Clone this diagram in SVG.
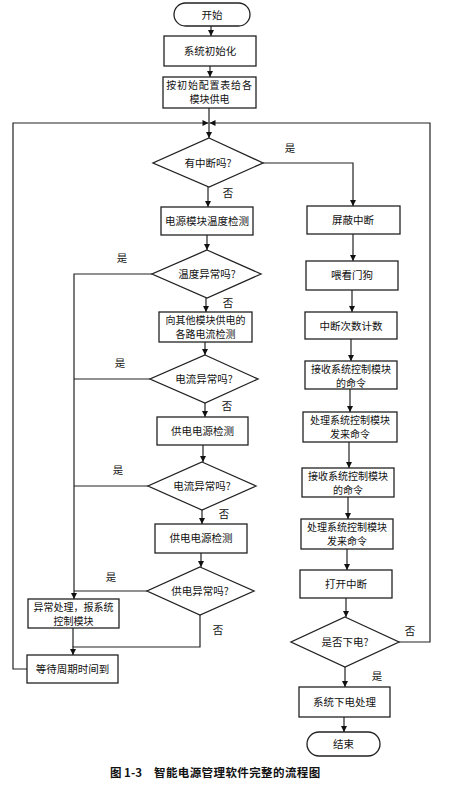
<svg xmlns="http://www.w3.org/2000/svg" width="462" height="787" viewBox="0 0 462 787">
<style>
.bx{fill:#fff;stroke:#222;stroke-width:1.3}
.ln{fill:none;stroke:#222;stroke-width:1.2}
.t{font-family:"Noto Sans CJK SC","Noto Sans",sans-serif;font-size:10.5px;fill:#111;text-anchor:middle}
.t2{font-family:"Noto Sans CJK SC","Noto Sans",sans-serif;font-size:10px;fill:#111;text-anchor:middle}
.lb{font-family:"Noto Sans CJK SC","Noto Sans",sans-serif;font-size:10.5px;fill:#111;text-anchor:middle}
.cap{font-family:"Noto Sans CJK SC","Noto Sans",sans-serif;font-size:11.5px;font-weight:bold;fill:#111}
</style>
<defs>
<marker id="ah" viewBox="0 0 10 10" refX="10" refY="5" markerWidth="7" markerHeight="6" markerUnits="userSpaceOnUse" orient="auto"><path d="M0,0 L10,5 L0,10 z" fill="#111"/></marker>
</defs>
<rect width="462" height="787" fill="#fff"/>
<g id="connectors">
<line class="ln" x1="211" y1="26" x2="211" y2="36" marker-end="url(#ah)"/>
<line class="ln" x1="210" y1="66" x2="210" y2="77" marker-end="url(#ah)"/>
<line class="ln" x1="209" y1="108" x2="209" y2="138" marker-end="url(#ah)"/>
<polyline class="ln" points="27,669 13,669 13,123 208.5,123" marker-end="url(#ah)"/>
<polyline class="ln" points="399,642 430,642 430,123 209.5,123" marker-end="url(#ah)"/>
<polyline class="ln" points="263,163 353,163 353,206" marker-end="url(#ah)"/>
<line class="ln" x1="208" y1="187" x2="208" y2="207" marker-end="url(#ah)"/>
<line class="ln" x1="207" y1="235" x2="207" y2="250" marker-end="url(#ah)"/>
<polyline class="ln" points="152,274 74,274 74,599" marker-end="url(#ah)"/>
<line class="ln" x1="206" y1="298" x2="206" y2="312" marker-end="url(#ah)"/>
<line class="ln" x1="205" y1="342" x2="205" y2="355" marker-end="url(#ah)"/>
<line class="ln" x1="150" y1="379" x2="74" y2="379"/>
<line class="ln" x1="205" y1="403" x2="205" y2="417" marker-end="url(#ah)"/>
<line class="ln" x1="203" y1="445" x2="203" y2="462" marker-end="url(#ah)"/>
<line class="ln" x1="148" y1="486" x2="74" y2="486"/>
<line class="ln" x1="202" y1="510" x2="202" y2="524" marker-end="url(#ah)"/>
<line class="ln" x1="201" y1="553" x2="201" y2="567" marker-end="url(#ah)"/>
<line class="ln" x1="147" y1="591" x2="74" y2="591"/>
<line class="ln" x1="73" y1="628" x2="73" y2="647"/>
<polyline class="ln" points="200,615 200,647 73,647 73,655" marker-end="url(#ah)"/>
<line class="ln" x1="353" y1="234" x2="353" y2="261" marker-end="url(#ah)"/>
<line class="ln" x1="352" y1="290" x2="352" y2="312" marker-end="url(#ah)"/>
<line class="ln" x1="351" y1="339" x2="351" y2="361" marker-end="url(#ah)"/>
<line class="ln" x1="350" y1="389" x2="350" y2="412" marker-end="url(#ah)"/>
<line class="ln" x1="349" y1="442" x2="349" y2="468" marker-end="url(#ah)"/>
<line class="ln" x1="348" y1="497" x2="348" y2="519" marker-end="url(#ah)"/>
<line class="ln" x1="347" y1="549" x2="347" y2="570" marker-end="url(#ah)"/>
<line class="ln" x1="346" y1="598" x2="346" y2="617" marker-end="url(#ah)"/>
<line class="ln" x1="345" y1="667" x2="345" y2="687" marker-end="url(#ah)"/>
<line class="ln" x1="344" y1="717" x2="344" y2="732" marker-end="url(#ah)"/>
<text class="lb" x="290" y="152">是</text>
<text class="lb" x="228" y="197">否</text>
<text class="lb" x="122" y="262">是</text>
<text class="lb" x="228" y="307">否</text>
<text class="lb" x="120" y="367">是</text>
<text class="lb" x="227" y="410">否</text>
<text class="lb" x="118" y="474">是</text>
<text class="lb" x="224" y="518">否</text>
<text class="lb" x="111" y="581">是</text>
<text class="lb" x="218" y="634">否</text>
<text class="lb" x="410" y="635">否</text>
<text class="lb" x="377" y="680">是</text>
</g>
<g id="start"><rect class="bx" x="174" y="3" width="76" height="23" rx="11.5"/><text class="t" x="212" y="18.5">开始</text></g>
<g id="init"><rect class="bx" x="164" y="36" width="92" height="30"/><text class="t" x="210" y="55">系统初始化</text></g>
<g id="power"><rect class="bx" x="163" y="77" width="93" height="31"/><text class="t2" x="209.5" y="89" letter-spacing="0.8">按初始配置表给各</text><text class="t2" x="209.5" y="103">模块供电</text></g>
<g id="d_int"><polygon class="bx" points="209,138 263,163 209,187 153,163"/><text class="t" x="208" y="167">有中断吗?</text></g>
<g id="temp"><rect class="bx" x="161" y="207" width="92" height="28"/><text class="t" x="207" y="225">电源模块温度检测</text></g>
<g id="d_temp"><polygon class="bx" points="207,250 261,274 207,298 152,274"/><text class="t" x="207" y="278">温度异常吗?</text></g>
<g id="curr"><rect class="bx" x="159" y="312" width="93" height="30"/><text class="t2" x="205.5" y="324">向其他模块供电的</text><text class="t2" x="205.5" y="338">各路电流检测</text></g>
<g id="d_curr1"><polygon class="bx" points="205,355 258,379 205,403 150,379"/><text class="t" x="204" y="383">电流异常吗?</text></g>
<g id="supply1"><rect class="bx" x="157" y="417" width="91" height="28"/><text class="t" x="202.5" y="435">供电电源检测</text></g>
<g id="d_curr2"><polygon class="bx" points="202,462 256,486 202,510 148,486"/><text class="t" x="202" y="490">电流异常吗?</text></g>
<g id="supply2"><rect class="bx" x="155" y="524" width="92" height="29"/><text class="t" x="201" y="542">供电电源检测</text></g>
<g id="d_supply"><polygon class="bx" points="200,567 254,591 200,615 147,591"/><text class="t" x="200" y="595">供电异常吗?</text></g>
<g id="abnormal"><rect class="bx" x="28" y="599" width="91" height="29"/><text class="t2" x="73.5" y="611">异常处理，报系统</text><text class="t2" x="73.5" y="625">控制模块</text></g>
<g id="wait"><rect class="bx" x="27" y="655" width="91" height="28"/><text class="t" x="72.5" y="673">等待周期时间到</text></g>
<g id="mask"><rect class="bx" x="307" y="206" width="93" height="28"/><text class="t" x="353" y="224">屏蔽中断</text></g>
<g id="dog"><rect class="bx" x="306" y="261" width="92" height="29"/><text class="t" x="352" y="279">喂看门狗</text></g>
<g id="count"><rect class="bx" x="305" y="312" width="92" height="27"/><text class="t" x="351" y="329.5">中断次数计数</text></g>
<g id="recv1"><rect class="bx" x="305" y="361" width="92" height="28"/><text class="t2" x="351" y="372.5">接收系统控制模块</text><text class="t2" x="351" y="386.5">的命令</text></g>
<g id="proc1"><rect class="bx" x="303" y="412" width="94" height="30"/><text class="t2" x="350" y="424">处理系统控制模块</text><text class="t2" x="350" y="438">发来命令</text></g>
<g id="recv2"><rect class="bx" x="302" y="468" width="92" height="29"/><text class="t2" x="348" y="480">接收系统控制模块</text><text class="t2" x="348" y="494">的命令</text></g>
<g id="proc2"><rect class="bx" x="301" y="519" width="92" height="30"/><text class="t2" x="347" y="531">处理系统控制模块</text><text class="t2" x="347" y="545">发来命令</text></g>
<g id="openint"><rect class="bx" x="300" y="570" width="92" height="28"/><text class="t" x="346" y="588">打开中断</text></g>
<g id="d_off"><polygon class="bx" points="345,617 399,642 345,667 291,642"/><text class="t" x="345" y="646">是否下电?</text></g>
<g id="poweroff"><rect class="bx" x="299" y="687" width="91" height="30"/><text class="t" x="344.5" y="706">系统下电处理</text></g>
<g id="end"><rect class="bx" x="307" y="732" width="73" height="24" rx="12"/><text class="t" x="343.5" y="748">结束</text></g>
<g id="caption"><text class="cap" x="110" y="777">图 1-3</text><text class="cap" x="154" y="777" letter-spacing="0.4">智能电源管理软件完整的流程图</text></g>
</svg>
